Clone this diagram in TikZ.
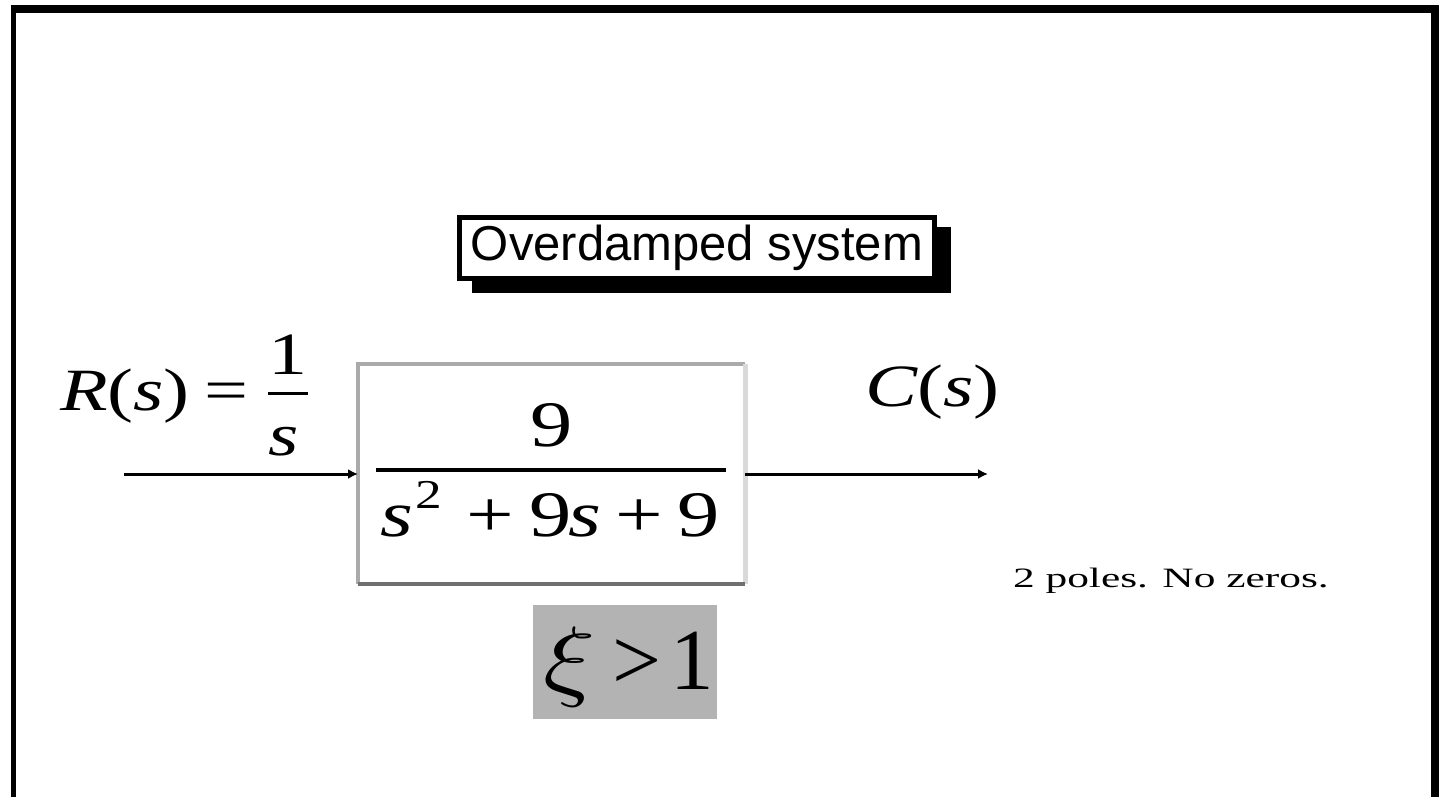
\documentclass[tikz,border=0pt]{standalone}
\usepackage{fontspec}
\setmainfont{Liberation Serif}
\newfontfamily\titlefont{Liberation Sans}
\usetikzlibrary{arrows.meta}
\definecolor{xigray}{RGB}{179,179,179}
\definecolor{edgetop}{RGB}{170,170,170}
\definecolor{edgebot}{RGB}{112,112,112}
\definecolor{edgeright}{RGB}{217,217,217}
\newcommand{\wide}[1]{\scalebox{1.3}[1]{#1}}
\begin{document}
\begin{tikzpicture}[x=0.5pt,y=-0.5pt,
  every node/.style={inner sep=0pt, outer sep=0pt},
  titlebox/.style={draw=black, line width=2.5pt, fill=white, minimum width=237.5pt, minimum height=30.5pt,
    font=\titlefont\fontsize{24.5pt}{29pt}\selectfont},
  plantbox/.style={draw=none, minimum width=193.5pt, minimum height=110pt},
  big/.style={font=\fontsize{32.5pt}{39pt}\selectfont, anchor=base west},
  mid/.style={font=\fontsize{30pt}{36pt}\selectfont},
  supfont/.style={font=\fontsize{20.5pt}{24pt}\selectfont, anchor=base west},
  huge/.style={font=\fontsize{43.5pt}{52pt}\selectfont, anchor=base west},
  small/.style={font=\fontsize{14pt}{17pt}\selectfont, anchor=base west},
  arr/.style={line width=1.5pt, -{Latex[length=5pt,width=5pt]}}
]
% canvas and frame
\fill[white] (0,0) rectangle (1439,797);
\useasboundingbox (0,0) rectangle (1439,797);
\fill[black] (11,5) rectangle (1439,13);
\fill[black] (11,5) rectangle (16,797);
\fill[black] (1431,5) rectangle (1439,797);

% title with shadow
\fill[black] (472,227) rectangle (951,293);
\node[titlebox] (title) at (697,248) {Overdamped system};

% plant block
\node[plantbox] (plant) at (551.5,474) {};
\draw[line width=2pt, edgetop] (plant.south west) -- (plant.north west) -- (plant.north east);
\draw[line width=2.5pt, edgeright] (plant.north east) -- (plant.south east);
\draw[line width=2pt, edgebot] (plant.south west) -- (plant.south east);

% transfer function
\node[big, anchor=base] (num) at (552,446) {\wide{9}};
\draw[line width=2pt] (376,470) -- (726,470);
\node[big] (d1) at (380,536) {\wide{\itshape s}};
\node[supfont] (d2) at (415,508) {\wide{2}};
\node[big] (d3) at (466,536) {\wide{+}};
\node[big] (d4) at (529,536) {\wide{9}};
\node[big] (d5) at (568,536) {\wide{\itshape s}};
\node[big] (d6) at (615,536) {\wide{+}};
\node[big] (d7) at (677,536) {\wide{9}};

% input label
\node[mid, anchor=base west] (rs) at (60,410) {\wide{{\itshape R}({\itshape s})}};
\node[mid, anchor=base west] (req) at (204,410) {\wide{=}};
\node[mid, anchor=base] (rone) at (288,374) {\wide{1}};
\draw[line width=1.5pt] (268,393) -- (308,393);
\node[mid, anchor=base] (rden) at (284,455) {\wide{\itshape s}};

% output label
\node[mid, anchor=base west] (cs) at (865,406) {\wide{{\itshape C}({\itshape s})}};

% connectors
\coordinate (in) at (124,474);
\coordinate (out) at (988,474);
\draw[arr] (in) -- (plant.west);
\draw[arr] (plant.east) -- (out);

% damping ratio
\node[fill=xigray, minimum width=92pt, minimum height=57pt] (xibox) at (625,662) {};
\node[anchor=base west, font=\fontsize{10pt}{12pt}\selectfont] (xi) at (543,689) {\scalebox{5.4}[4.5]{$\xi$}};
\node[huge] (gt) at (612,689) {>};
\node[huge] (one) at (670,689) {1};

% note
\node[small] (note) at (1013,587) {\scalebox{1.55}[1]{2 poles. No zeros.}};
\end{tikzpicture}
\end{document}
